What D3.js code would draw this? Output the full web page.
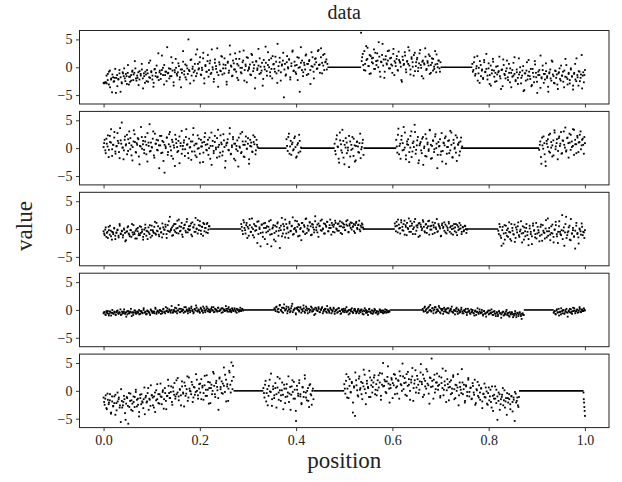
<!DOCTYPE html>
<html>
<head>
<meta charset="utf-8">
<script src="https://cdn.jsdelivr.net/npm/d3@7"></script>
<style>
  body { margin: 0; background: #fff; }
  text { font-family: "Liberation Serif", serif; fill: #222; }
</style>
</head>
<body>
<svg></svg>
<script>
const width = 622;
const height = 482;

// x ticks and y ticks shared by the panels
const xTicks = [0, 0.2, 0.4, 0.6, 0.8, 1.0];
const yTicks = [-5, 0, 5];

// panel 1 : data segments (evenly spaced positions)
const p1a = [-2.8,-2.8,-2.7,-2.9,-1.2,-3.1,-0.6,-2.2,-4.5,-1.8,
  -2.5,-0.3,-1.9,-3.4,-2.1,-1.1,-4.4,-2.7,-0.9,-1.6,
  -2.0,-1.2,-3.0,0.4,-1.7,-2.6,-1.4,-0.8,-2.3,-1.0,
  -0.2,-2.4,-1.9,-3.2,-0.7,-1.5,0.6,-2.0,-1.1,-2.8,
  -1.3,-0.5,-2.6,-1.8,1.2,-0.9,-2.2,-3.5,-0.4,-1.6,
  0.3,-1.7,-2.3,-0.6,-1.2,2.1,-0.1,-3.1,-1.4,-0.8,
  3.6,-1.0,-2.0,-0.3,-1.6,0.8,-2.7,-0.5,1.5,-1.2,
  -0.9,0.2,-1.8,-3.6,-0.4,1.0,-1.3,0.5,-2.2,-0.2,
  5.0,-0.7,1.3,-1.5,0.1,-2.4,-0.6,2.3,-1.1,0.6,
  -0.2,1.8,-1.4,-0.5,2.6,-2.9,0.4,-0.8,1.1,-1.7,
  0.7,-1.2,3.2,-0.4,-2.1,1.4,0.2,-0.9,-3.5,0.9,
  -0.6,2.0,-1.3,0.5,1.6,-0.2,-2.6,0.8,-1.0,3.9,
  0.3,-1.6,1.2,-0.4,2.5,-0.8,0.6,-2.3,1.5,-0.1,
  -1.1,0.9,3.0,-0.5,0.2,-2.7,1.7,-0.3,0.5,-1.4,
  2.2,-0.7,0.4,-1.9,1.0,-0.2,3.3,-1.2,0.1,-0.6,
  -3.3,1.3,-0.4,0.8,-1.5,2.7,0.0,-0.9,1.6,-2.0,
  0.5,-0.3,1.9,-1.1,4.2,-0.6,0.9,-2.4,0.3,1.2,
  -5.4,0.6,-1.3,2.0,-0.2,1.4,-1.8,0.2,2.8,-0.7,
  1.0,-0.9,0.4,-2.3,1.7,0.0,3.6,-0.5,-1.6,0.8,
  -0.4,2.3,0.6,-1.2,1.3,-3.0,0.2,1.8,-0.8,0.5,
  1.6,-0.3,2.9,0.4,-1.0,3.4,0.8,2.2,-0.5,0.9,1.4,0.6];
const p1a2 = [-2.9,-2.7,-1.5,-2.3,-0.8,-3.6,-2.0,-1.3,-2.6,-1.9,
  -4.6,-1.4,-2.2,-0.5,-1.8,-2.9,-1.1,-0.2,-2.5,-1.6,
  -1.0,-3.1,-1.7,-2.4,-0.6,-1.3,1.1,-2.0,-1.5,-0.9,
  -2.2,-1.2,-0.4,-3.8,-1.6,-0.8,-2.5,-1.1,0.8,-1.9,
  -0.7,-1.5,-2.8,-0.3,-1.0,-1.8,2.5,-0.9,-2.1,-0.5,
  -1.4,0.4,-0.8,-2.5,-1.1,-0.2,-1.6,1.8,-0.6,-3.3,
  -0.9,-0.1,-1.5,0.7,-2.2,-0.4,-1.0,2.9,-0.7,-1.8,
  0.3,-1.2,-0.5,-2.9,1.4,-0.3,-0.9,0.6,-1.6,3.2,
  -0.4,0.9,-1.3,-0.1,1.6,-2.0,0.2,-0.8,2.2,-0.5,
  1.2,-1.0,0.0,-2.6,0.8,-0.3,3.4,-1.4,0.5,-0.7,
  1.9,-0.2,-1.1,0.4,-3.1,1.0,-0.6,2.3,0.1,-1.5,
  0.7,-0.4,1.5,-1.9,0.3,2.8,-0.9,-0.1,1.2,-2.4,
  0.5,1.8,-0.6,0.0,-1.3,2.4,0.9,-0.2,-3.8,1.1,
  -0.5,0.3,1.6,-1.0,0.8,-2.1,0.1,3.7,-0.7,0.4,
  1.3,-1.6,-0.3,2.0,0.6,-0.8,1.0,-2.8,0.2,1.7,
  -0.9,0.5,2.6,-0.4,-1.5,0.9,0.0,1.4,-2.2,0.7,
  3.0,-0.6,0.3,-1.2,1.8,-0.1,-4.4,0.8,1.2,-0.9,
  0.4,2.1,-1.4,0.6,1.1,-0.5,2.7,0.1,-2.0,1.5,
  0.9,-0.2,3.1,0.5,1.8,-1.1,0.3,2.4,1.0,-0.4];
const p1b = [6.2,1.8,0.4,2.9,-0.6,1.3,3.5,0.2,2.2,-1.1,
  1.6,0.7,3.2,-0.3,1.1,2.5,0.0,1.9,-1.7,0.9,
  4.2,1.4,-0.8,2.0,0.5,1.2,3.0,-0.2,1.7,0.3,
  2.4,-1.4,0.8,1.5,-0.5,2.8,1.0,0.1,-2.6,1.3,
  0.6,2.1,-0.9,1.1,3.6,0.3,-0.4,1.8,0.9,-1.5,
  2.6,0.2,1.4,-0.7,0.7,3.1,-0.1,1.0,-2.0,0.5,
  1.9,-0.3,0.8,2.3,-1.2,0.4,1.6,-0.6,0.1,2.9,
  -0.9,0.6,1.2,-0.2,0.9];
const p1b2 = [1.1,2.4,-0.5,0.6,3.8,1.5,0.2,-1.2,2.0,0.9,
  1.7,-0.3,2.6,0.4,1.2,4.5,-0.8,1.0,2.2,0.3,
  -1.9,1.4,0.7,2.9,-0.2,1.6,0.5,-1.0,3.3,1.1,
  0.2,2.0,-0.6,1.3,0.8,-2.3,1.9,0.4,2.7,-0.4,
  1.0,0.6,3.0,-1.3,1.5,0.1,2.2,-0.7,0.9,1.7,
  -0.1,2.5,0.4,-1.6,1.2,0.7,3.4,-0.5,1.1,0.3,
  2.0,-1.0,0.8,1.5,-0.3,0.5,2.3,0.0,1.2,-0.8];
const p1c = [0.6,-0.5,1.8,-1.2,0.2,-2.4,-0.1,1.1,-1.6,-0.4,
  -2.1,0.9,-0.8,2.4,-1.5,-0.2,-3.0,0.3,-1.1,1.5,
  -0.6,-2.6,0.1,-1.3,-0.9,1.9,-2.0,-0.5,-3.4,0.4,
  -1.4,-0.7,1.2,-2.3,-1.0,-0.2,-3.6,-1.7,0.8,-1.2,
  -2.5,-0.4,-1.9,1.6,-0.9,-2.9,-1.5,0.2,-4.1,-1.1,
  -0.6,-2.2,1.3,-1.6,-0.3,-3.2,-1.0,-2.7,0.5,-1.8,
  -4.6,-0.8,-1.4,2.1,-2.0,-0.5,-2.8,-1.2,0.7,-1.9,
  -3.5,-1.1,-0.4,-2.4,1.0,-1.6,-2.9,-0.7,-1.3,-3.9,
  -0.9,-2.1,0.3,-1.5,-2.6,-0.6,1.5,-1.8,-3.1,-1.0,
  -2.3,-0.2,-1.7,-4.0,-1.2,0.6,-2.5,-1.4,-3.3,-0.8,
  -1.9,2.2,-1.5,-2.7,-0.5];
const p1c2 = [-0.8,0.9,-1.5,-0.2,2.0,-1.1,-2.8,0.4,-0.6,-1.9,
  1.3,-0.9,-0.3,-2.2,0.7,-1.4,-3.3,-0.5,1.0,-1.7,
  -1.0,-2.5,0.2,-0.7,-1.6,-3.9,-0.4,1.4,-1.2,-2.0,
  -0.2,-1.8,0.6,-2.7,-1.0,-0.5,-1.5,1.8,-2.3,-0.9,
  -3.0,-1.3,0.0,-1.9,-0.6,-4.3,-1.1,-2.4,0.9,-1.5,
  -0.8,-2.1,-3.4,-0.3,-1.7,1.1,-1.0,-2.6,-1.4,-0.5,
  -3.7,-1.8,0.3,-1.2,-2.2,-0.7,-1.6,-4.4,-0.9,-2.0,
  1.2,-1.3,-2.8,-0.6,-1.9,-3.1,-1.1,-0.2,-2.4,-1.5,
  -0.8,-3.6,-1.7,0.4,-2.1,-1.2,-2.9,-0.4,-1.6,-3.3,
  -1.0,-2.2,1.6,-1.8,-0.7,-2.5,-1.3,-3.8,-0.9,-1.4];

// panel 2
const p2a = [0.2,1.5,-0.9,0.8,2.3,-0.3,1.1,3.4,-1.4,0.6,
  1.9,-0.6,0.3,2.7,0.9,-1.8,1.4,4.6,0.1,-0.4,
  2.1,0.7,-1.1,1.6,3.0,-0.2,0.5,-2.2,1.2,2.5,
  -0.7,0.9,1.8,-1.5,0.4,3.8,-0.1,1.3,-0.9,2.0,
  0.6,-2.4,1.0,4.3,-0.5,0.2,1.7,-1.3,2.6,0.8,
  -0.3,1.4,-3.6,0.5,2.2,-0.8,1.1,-4.4,0.3,1.9,
  -1.2,0.7,2.9,-0.4,1.5,-1.9,0.1,2.4,0.9,-0.7,
  1.3,-2.7,0.4,3.1,-0.2,1.0,-1.4,2.0,0.6,-0.9,
  1.7,0.2,-2.1,1.2,3.6,-0.6,0.8,-1.6,2.3,0.0,
  -1.0,1.5,0.3,-2.5,1.1,2.7,-0.3,0.7,-1.2,1.9,
  0.4,-3.0,1.3,-0.5,2.2,0.1,-1.7,3.3,0.6,-0.8,
  1.0,-1.3,2.5,0.2,-2.3,0.9,1.6,-0.4,3.6,-1.0,
  0.5,2.0,-1.9,0.8,-0.2,1.4,-3.3,0.3,2.6,-0.7,
  1.2,-1.5,0.6,2.1,-0.1,1.8,-2.0,0.4,1.0,-0.6,
  2.3,0.7,-1.1,1.5,0.2];
const p2a2 = [0.9,-0.4,1.7,0.3,-1.6,2.2,1.0,-0.2,0.6,2.9,
  -1.0,0.4,1.3,-0.7,3.6,0.8,0.1,-2.0,1.5,0.5,
  2.4,-0.5,0.9,1.8,-1.3,0.2,3.2,1.1,-0.8,0.6,
  1.6,-2.9,0.3,2.0,0.7,-0.3,1.2,-1.1,2.7,0.4,
  -0.6,1.0,0.1,3.0,-1.7,0.8,1.5,-0.4,0.5,2.2,
  -0.9,1.3,-2.3,0.6,0.0,1.9,-0.7,2.5,0.3,-1.4,
  1.1,0.5,-3.2,1.6,0.2,-0.5,2.1,0.9,-1.0,0.4,
  1.4,-0.2,3.4,0.7,-1.8,0.1,1.2,-0.6,2.4,0.5,
  -1.3,0.8,-0.1,1.7,-2.6,0.3,1.0,-0.8,2.0,0.6,
  -0.4,1.5,0.0,-1.9,2.8,0.4,-0.9,1.1,-0.2,1.8,
  0.2,-1.5,2.3,0.7,-0.6,1.4,-3.5,0.5,1.0,-0.3,
  2.6,-1.1,0.2,1.6,0.8,-2.2,0.4,-0.5,1.9,0.1,
  -0.9,2.9,0.6,-1.6,1.2,-0.1,0.8,-2.8,1.5,0.3,
  -0.7,1.1,2.0,-0.4,0.6];
const p2b = [1.6,-0.5,2.6,0.3,-1.2,1.0,-0.2,2.1,-1.7,0.6,-0.8,1.3,0.1];
const p2b2 = [0.4,2.0,-1.0,1.3,0.7,-0.4,1.8,0.2,-1.5,0.9,2.4,-0.6];
const p2c = [0.8,-1.1,2.3,0.2,-2.6,1.4,-0.4,3.3,-1.7,0.6,1.8,-0.9,0.1,-3.4,
  1.2,-0.3,2.0,-1.4,0.5,-2.2,1.1,0.3,-0.8,2.6,-0.2,0.9,-1.2];
const p2c2 = [-0.5,1.6,0.3,-1.9,2.8,0.7,-0.8,1.3,-2.9,0.1,1.0,-0.4,2.2,-1.5,
  0.6,-0.1,1.7,-2.4,0.4,1.2,-0.7,0.9,-1.8,0.2,1.5];
const p2d = [1.5,-0.8,3.5,0.4,-1.9,2.2,0.9,-0.3,2.8,-1.3,
  0.7,1.6,-2.5,0.1,3.0,-0.6,1.2,4.2,-1.0,0.5,
  2.0,-2.2,0.8,-0.4,1.7,-3.0,0.3,2.5,-1.5,1.0,
  -0.2,3.3,0.6,-1.8,1.4,-0.7,2.1,0.0,-3.6,1.1,
  0.4,-1.2,2.7,-0.5,0.9,1.8,-2.8,0.2,1.3,-0.9,
  3.1,0.6,-1.6,1.5,-0.1,2.3,-2.3,0.7,1.0,-0.6,
  1.9,0.3];
const p2d2 = [0.3,2.4,-1.1,0.8,1.5,-0.4,3.8,0.1,-2.0,1.2,
  0.6,-0.7,2.2,-1.6,0.9,0.2,2.9,-0.3,1.4,-2.7,
  0.5,1.1,-0.9,2.0,0.0,-1.4,1.7,0.7,-0.5,3.2,
  -1.9,0.4,1.3,-0.2,2.5,0.8,-1.2,0.3,1.6,-0.6,
  -2.4,1.0,0.5,2.1,-1.0,0.2,1.4,-0.4,2.8,-1.7,
  0.9,0.1,-0.8,1.9,0.6,-1.3,1.2,0.0];
const p2e = [-0.3,1.2,-2.8,0.5,2.1,-1.1,-3.2,0.8,1.6,-0.6,
  2.6,0.1,-1.5,1.4,3.2,-0.2,0.9,-2.0,1.8,0.4,
  2.9,-0.9,1.3,0.6,3.7,-0.4,1.9,-1.7,1.0,2.4,
  0.2,3.4,-1.2,1.5,0.7,2.2,-0.7,1.1,3.0,0.5,
  1.7,-1.0,0.9];
const p2e2 = [0.6,-1.6,1.9,-0.1,0.9,-2.4,1.3,0.2,2.4,-0.8,
  1.1,0.5,-1.3,2.8,0.3,1.6,-0.5,2.1,0.8,-1.0,
  1.4,3.0,0.1,-0.6,1.8,0.9,2.6,-0.3,1.2,0.4,
  3.3,0.7,-0.9,1.9,1.0,2.4,-0.2,1.5,0.6,2.0];

// panel 3
const p3a = [-0.4,-1.1,0.3,-0.7,-1.6,-0.2,0.6,-1.3,-0.5,-0.9,
  0.2,-1.8,-0.6,-0.1,-1.2,0.9,-0.8,-0.3,-1.5,0.1,
  -0.7,-2.0,-0.4,0.5,-1.0,-0.2,-1.4,-0.6,0.7,-0.9,
  -0.3,-1.7,0.2,-0.8,-1.1,0.4,-0.5,-1.9,-0.1,0.8,
  -1.2,-0.4,0.3,-0.9,-1.5,0.6,-0.2,-0.7,1.3,-1.0,
  -0.3,0.5,-1.3,0.1,-0.6,1.0,-0.9,-0.1,0.4,-1.6,
  0.7,-0.4,2.2,-0.2,0.3,-1.1,0.9,-0.5,0.1,1.5,
  -0.8,0.5,-0.3,1.1,-1.4,0.2,0.8,-0.6,1.8,0.0,
  -0.2,0.6,-1.0,1.2,0.3,-0.5,2.0,0.1,-0.8,0.7,
  1.4,-0.3,0.4,-1.2,0.9,0.2,-0.6,1.1,-0.1,0.5];
const p3a2 = [-0.8,-0.1,-1.4,-0.5,0.4,-1.0,-0.3,-1.9,-0.6,0.1,
  -1.2,-0.7,-0.2,-1.5,0.6,-0.9,-0.4,-1.1,-0.1,-2.2,
  -0.5,0.3,-0.8,-1.3,-0.2,0.9,-1.0,-0.6,-1.7,0.0,
  -0.4,-1.1,0.5,-0.7,-0.1,-1.4,-0.9,0.2,-0.3,-1.8,
  -0.6,0.7,-0.2,-1.2,-0.5,0.4,-0.8,1.1,-0.4,-1.0,
  0.1,-0.6,-1.5,0.3,-0.1,0.8,-0.9,-0.3,1.4,-0.5,
  0.0,-1.2,0.6,-0.2,0.9,-0.7,0.2,1.7,-0.4,0.4,
  -1.0,0.1,0.7,-0.3,1.3,-0.6,0.5,-0.1,1.0,-1.3,
  0.3,0.8,-0.5,0.0,1.6,-0.2,0.6,-0.9,0.4,1.1,
  -0.4,0.2,0.9,-0.7,0.5];
const p3b = [0.9,-0.3,1.6,0.2,-0.8,1.1,0.4,-1.2,0.7,-0.5,
  1.9,0.0,-1.5,0.6,-0.2,1.3,-0.9,0.3,-3.1,0.8,
  -0.6,1.0,-1.8,0.2,0.5,-0.4,1.4,-1.0,-3.1,0.1,
  0.7,-0.7,-2.2,0.4,1.2,-0.3,-3.4,0.6,-1.3,0.9,
  -0.1,1.7,-0.8,0.3,-1.6,1.0,-0.4,0.5,2.1,-0.9,
  0.2,-0.2,1.4,-1.3,0.7,0.0,-2.0,1.1,-0.5,0.4,
  1.8,-0.7,0.6,-0.1,1.2,-1.1,0.9,0.3,-0.6,2.3,
  -0.2,0.8,-1.4,0.5,1.5,-0.3,0.1,1.0,-0.8,0.6,
  1.3,-0.4,0.2,1.7,-1.0,0.7,0.4,-0.6,1.1,0.0,
  0.9,-0.3,1.4,0.5,-0.9,1.0,0.3,-0.2,0.8,1.6,
  -0.5,0.6,1.2,-0.1,0.4,0.9,-0.7,1.1,0.2,0.7,
  1.5,-0.4,0.3,0.8,0.0];
const p3b2 = [0.4,-0.9,1.2,-0.2,0.7,-1.6,0.1,1.8,-0.5,0.3,
  -1.1,0.9,-0.3,0.5,-2.5,1.4,0.0,-0.7,0.8,-1.4,
  0.2,1.1,-0.6,-2.7,0.4,-0.1,1.6,-0.9,0.3,-1.9,
  0.6,-0.4,1.0,-1.2,0.2,-0.2,2.0,-0.8,0.5,-1.5,
  0.9,0.1,-0.6,1.3,-0.3,0.6,-1.0,0.0,1.5,-0.5,
  0.4,0.9,-1.2,0.2,1.1,-0.4,0.7,-0.9,1.9,0.1,
  -0.3,1.2,0.5,-1.0,0.8,-0.1,1.4,0.3,-0.6,1.0,
  0.6,-0.2,1.7,0.0,-0.8,0.9,0.4,1.3,-0.4,0.7,
  0.2,1.1,-0.5,0.8,1.5,0.1,-0.3,1.0,0.5,-0.7,
  1.2,0.3,0.8,-0.2,1.4,0.6,-0.6,0.9,0.2,1.1,
  0.5,-0.4,0.7,1.3,0.0,0.8,-0.1,0.6,1.0,0.3];
const p3c = [1.0,-0.4,0.6,1.7,0.1,-0.8,1.2,0.4,-0.3,1.5,
  0.7,-1.1,0.2,1.9,0.5,-0.5,1.0,0.0,1.3,-0.9,
  0.6,0.3,-1.4,1.1,0.8,-0.2,1.6,0.4,-0.6,0.9,
  0.2,1.4,-1.0,0.5,-0.1,1.2,0.7,-0.7,0.3,1.8,
  -0.4,0.6,0.1,-1.2,1.0,0.4,-0.3,0.8,-0.8,0.2,
  1.3,-0.5,0.5,0.0,-1.0,0.9,0.3,-0.6,0.7,-0.2,
  1.1,0.1,-0.9,0.4,-0.4,0.6,0.0,-0.1];
const p3c2 = [0.5,1.3,-0.6,0.8,0.2,1.6,-0.2,0.9,-1.0,0.4,
  1.1,0.0,-0.5,1.4,0.6,-0.9,0.3,1.8,-0.3,0.7,
  1.0,-1.2,0.4,0.1,1.3,-0.4,0.8,-0.7,0.5,1.5,
  -0.1,0.6,-0.9,0.3,1.1,0.0,-0.5,0.9,0.4,-1.3,
  0.7,0.2,1.2,-0.6,0.5,-0.2,1.0,0.3,-0.8,0.6,
  0.1,-0.4,0.9,-1.1,0.4,0.0,0.7,-0.5,0.3,-0.2,
  0.5,-0.7];
const p3d = [-0.3,0.9,-1.2,-3.0,0.4,-0.8,-1.9,0.6,-0.2,-1.4,
  1.2,-0.6,-2.1,0.2,-0.9,0.8,-1.6,-0.1,0.5,-1.1,
  -0.4,1.4,-2.4,-0.7,0.3,-1.3,0.9,-0.5,-1.8,0.1,
  -0.9,-2.7,0.6,-0.3,-1.5,1.1,-0.8,-0.2,-2.2,0.4,
  -1.0,0.7,-0.6,-1.7,1.6,-0.4,-1.2,0.2,-2.0,-0.7,
  0.8,-1.4,-0.1,1.3,-0.9,-2.5,0.5,-0.5,-1.1,2.5,
  -0.3,-3.0,0.9,-1.6,-0.6,0.3,-1.9,1.8,-0.8,-0.2,
  -1.3,-3.5,0.6,-0.9,-1.5,0.1,-0.4,1.0,-1.1,-0.6,
  -0.2];
const p3d2 = [-0.9,0.4,-1.6,-0.2,-2.6,0.7,-0.7,-1.2,0.1,-0.5,
  -1.8,0.9,-0.3,-1.0,-2.3,0.3,-0.6,1.2,-1.4,-0.1,
  -0.8,0.5,-1.9,-0.4,0.2,-1.1,-2.9,0.6,-0.5,-1.3,
  1.0,-0.2,-0.9,-1.7,0.4,-0.6,-1.2,0.8,-2.1,-0.3,
  -0.7,0.1,-1.5,1.9,-0.4,-1.0,0.5,-0.8,-2.4,-0.1,
  0.7,-1.3,-0.5,1.4,-0.9,-0.2,-1.8,0.3,-0.6,2.2,
  -1.1,-0.4,0.6,-2.0,-0.8,0.2,-1.4,-0.3,1.1,-0.7,
  -2.6,-0.1,-1.0,0.4,-0.5,-1.6];

// panel 4
const p4a = [-0.6,-0.4,-0.9,-0.5,-0.2,-0.7,-0.3,-1.0,-0.5,-0.6,
  -0.3,-0.8,-0.4,-0.1,-0.7,-0.5,-0.9,-0.3,-0.6,0.1,
  -0.5,-0.4,-0.8,-0.2,-0.6,-0.3,-1.1,-0.4,-0.5,-0.1,
  -0.7,-0.3,-0.5,-0.8,-0.2,-0.4,-0.6,0.0,-0.5,-0.3,
  -0.7,-0.2,-0.4,-0.9,-0.1,-0.5,-0.3,-0.6,0.2,-0.4,
  -0.2,-0.5,-0.1,-0.7,-0.3,0.1,-0.4,-0.6,-0.2,0.3,
  -0.3,-0.1,-0.5,0.0,-0.4,-0.2,0.4,-0.3,-0.6,-0.1,
  0.2,-0.4,-0.2,0.1,-0.5,-0.3,0.5,-0.1,-0.2,0.0,
  -0.4,0.3,-0.2,-0.6,0.1,-0.1,0.4,-0.3,0.0,-0.5,
  0.2,-0.2,0.6,-0.1,-0.4,0.1,0.3,-0.3,0.0,-0.2,
  0.5,-0.1,-0.4,0.2,0.0,-0.3,0.4,-0.2,0.1,-0.5,
  0.3,0.0,-0.2,0.7,-0.1,0.2,-0.3,0.1,-0.4,0.0,
  -0.2,0.3,-0.1,-0.5,0.1,-0.3,0.0,-0.2,0.2,-0.1];
const p4a2 = [-0.4,-0.8,-0.2,-0.6,-1.0,-0.3,-0.5,0.0,-0.7,-0.4,
  -0.9,-0.2,-0.6,-0.4,0.1,-0.8,-0.5,-0.3,-0.7,-1.2,
  -0.2,-0.6,-0.4,0.2,-0.5,-0.9,-0.1,-0.4,-0.6,-0.3,
  0.0,-0.7,-0.2,-0.5,0.3,-0.4,-0.8,-0.1,-0.3,-0.6,
  0.1,-0.2,-0.5,-0.3,0.4,-0.7,-0.1,-0.4,0.0,-0.2,
  -0.6,0.2,-0.3,0.5,-0.1,-0.4,0.1,-0.2,0.7,-0.5,
  0.0,-0.3,0.3,-0.1,0.9,-0.4,0.2,-0.2,0.0,0.5,
  -0.3,0.1,-0.6,0.3,-0.1,0.6,0.0,-0.4,0.2,0.8,
  -0.2,0.1,-0.3,0.4,0.0,-0.5,0.3,-0.1,0.6,-0.2,
  0.1,-0.4,0.2,0.0,0.5,-0.3,0.1,-0.1,0.4,-0.2,
  0.0,0.3,-0.4,0.1,-0.1,0.2,-0.3,0.5,0.0,-0.2,
  0.3,-0.1,0.1,-0.3,0.2,0.0,-0.2,0.4,-0.1,0.1];
const p4b = [0.3,-0.2,0.6,0.1,-0.4,0.9,0.0,-0.3,0.4,1.0,
  -0.1,0.2,-0.6,0.5,0.1,-0.2,0.7,-0.4,0.0,0.3,
  -0.8,0.2,0.5,-0.1,0.4,-0.5,0.1,0.8,-0.3,0.0,
  0.3,-0.6,0.2,-0.1,0.6,-0.3,0.1,-0.9,0.4,0.0,
  -0.2,0.5,-0.4,0.1,0.3,-0.6,0.0,0.2,-0.3,0.7,
  -0.1,-0.5,0.2,0.0,-0.3,0.4,-0.7,-0.1,0.1,-0.4,
  0.3,-0.2,-0.6,0.0,0.2,-0.4,-0.1,0.5,-0.3,-0.8,
  0.0,-0.2,0.3,-0.5,-0.1,0.1,-0.6,-0.3,0.2,-0.2,
  -0.4,0.0,-0.7,-0.1,0.3,-0.5,-0.2,-0.9,0.1,-0.3,
  -0.6,-0.1,-0.4,0.2,-0.5,-0.2,-0.8,-0.3,0.0,-0.4,
  -0.1,-0.6,-0.3,0.1,-0.5,-0.2,-0.4,-0.3];
const p4b2 = [0.1,0.5,-0.3,0.2,0.8,-0.1,0.4,-0.5,0.3,0.0,
  0.6,-0.2,0.1,-0.4,0.3,1.1,-0.1,0.2,-0.6,0.4,
  0.0,-0.3,0.5,0.1,-0.2,0.3,-0.5,0.6,-0.1,0.2,
  -0.4,0.0,0.4,-0.2,0.1,-0.7,0.3,-0.1,0.2,-0.4,
  0.0,0.5,-0.3,-0.1,0.2,-0.5,0.1,-0.2,0.4,-0.6,
  -0.1,0.2,-0.3,0.0,-0.5,0.3,-0.2,-0.7,0.1,-0.3,
  -0.1,0.2,-0.4,-0.2,0.0,-0.6,0.1,-0.3,-0.5,0.2,
  -0.2,-0.4,0.0,-0.6,-0.1,0.1,-0.3,-0.8,-0.2,0.0,
  -0.5,-0.3,0.2,-0.4,-0.1,-0.7,-0.2,0.0,-0.5,-0.3,
  -0.6,0.1,-0.2,-0.4,-0.1,-0.5,-0.3,0.0,-0.4,-0.2];
const p4c = [0.2,-0.3,0.6,0.0,-0.5,0.4,-0.1,0.9,-0.2,0.3,
  -0.6,0.1,0.5,-0.3,0.0,0.7,-0.4,0.2,-0.1,-0.7,
  0.4,-0.2,0.1,-0.5,0.3,-0.3,0.0,0.6,-0.4,-0.1,
  -0.8,0.2,-0.3,0.1,-0.5,-0.2,0.4,-0.6,-0.1,0.0,
  -0.4,-0.9,0.2,-0.3,-0.6,0.1,-0.2,-0.5,-1.0,-0.1,
  -0.4,0.3,-0.7,-0.3,-0.5,0.0,-0.8,-0.2,-0.6,-1.2,
  -0.4,-0.1,-0.7,-0.5,0.1,-0.9,-0.3,-0.6,-1.1,-0.4,
  -0.8,-0.2,-0.6,-1.4,-0.5,-0.3,-0.9,-0.7,0.0,-0.6,
  -1.0,-0.4,-0.8,-0.5,-1.3,-0.7,-0.2,-0.9,-0.6,-1.1,
  -0.5,-0.8,-1.6,-0.6,-0.9];
const p4c2 = [-0.1,0.4,-0.2,0.2,-0.4,0.6,0.0,-0.3,0.3,-0.1,
  0.5,-0.5,0.1,-0.2,0.4,-0.6,0.0,0.2,-0.3,0.1,
  -0.4,0.3,-0.6,-0.1,0.2,-0.3,-0.5,0.0,-0.2,0.4,
  -0.7,-0.1,-0.4,0.1,-0.3,-0.6,-0.2,0.2,-0.5,-0.3,
  -0.1,-0.7,-0.4,0.0,-0.6,-0.2,-0.9,-0.3,-0.5,0.1,
  -0.6,-0.4,-1.0,-0.2,-0.7,-0.5,-0.3,-0.8,-0.1,-0.6,
  -0.4,-0.9,-0.2,-0.7,-0.5,-1.1,-0.3,-0.6,-0.8,-0.4,
  -1.0,-0.6,-0.3,-0.9,-0.5,-1.2,-0.7,-0.4,-0.8,-1.0,
  -0.6,-1.3,-0.5,-0.8,-0.4,-1.1,-0.7,-0.9];
const p4d = [-0.5,-0.2,-0.8,0.1,-0.4,-1.0,-0.3,0.3,-0.6,-0.1,
  -0.7,0.0,-0.4,-1.2,-0.2,0.2,-0.5,-0.3,0.4,-0.1,
  -0.6,-0.2,0.1,-0.4,0.5,-0.3,0.0,-0.2,0.3,-0.1];
const p4d2 = [-0.3,-0.7,-0.1,-0.5,0.2,-0.4,-0.8,-0.2,0.0,-0.6,
  -0.3,0.2,-0.5,-0.1,-0.4,0.1,-0.7,-0.2,0.3,-0.3,
  0.0,-0.5,-0.1,0.2,-0.4,0.1,-0.2,0.0];

// panel 5
const p5a = [-1.2,-2.5,-0.8,-3.3,-1.6,-2.1,-0.6,-3.9,-1.9,-2.7,
  -1.0,-4.3,-2.2,-0.3,-1.5,-3.0,-5.6,-1.8,-2.6,-0.9,
  -4.0,-2.3,-1.3,-5.9,-2.9,-0.5,-1.7,-3.6,-2.0,-1.1,
  0.2,-2.8,-1.4,-4.6,-0.7,-2.4,-1.9,-3.1,0.6,-1.2,
  -2.1,-0.4,-3.4,-1.6,1.0,-0.8,-2.6,-1.0,-3.8,0.1,
  -1.5,-0.6,-2.3,1.3,-1.1,-0.2,-3.2,0.5,-1.8,-0.9,
  2.0,-0.4,-1.3,0.8,-2.5,-0.1,1.4,-1.0,-0.6,2.3,
  -1.7,0.3,-0.8,1.7,-0.3,-2.8,0.9,-0.5,2.6,-1.2,
  0.4,-0.1,1.6,-2.0,0.7,-0.7,3.0,0.0,-1.4,1.2,
  -0.3,2.1,0.6,-1.6,1.0,-0.9,2.8,0.2,-2.3,1.5,
  0.5,-0.6,3.4,0.9,-1.1,1.8,0.1,-3.4,2.4,0.7,
  -0.4,1.3,4.2,-0.2,2.0,0.8,-1.8,3.6,1.1,5.1,
  0.3,2.5];
const p5a2 = [-2.0,-1.4,-3.1,-0.5,-2.4,-1.7,-4.1,-1.0,-2.8,-2.2,
  -0.7,-3.5,-1.9,-1.2,-2.6,0.3,-3.0,-2.0,-1.5,-5.2,
  -1.1,-2.7,-0.4,-1.8,-3.4,-2.3,-1.0,-2.9,-0.2,-1.6,
  -2.5,-3.8,-1.3,-0.6,-2.1,-1.5,-4.2,-0.9,-1.9,0.5,
  -1.4,-2.7,-0.8,-1.2,-3.0,-0.3,-1.7,1.2,-2.2,-0.6,
  -1.0,-2.4,0.1,-1.5,-0.4,-3.3,-0.9,0.9,-1.3,-0.2,
  -2.0,0.6,-0.7,-1.4,1.9,-0.3,-1.0,0.2,-2.6,0.8,
  -0.5,1.5,-0.9,0.3,-1.8,2.4,0.0,-0.6,1.1,-1.2,
  0.6,-0.2,2.0,-0.8,0.4,1.3,-1.5,0.9,-0.4,2.7,
  0.2,-0.9,1.6,0.5,-2.2,1.1,0.0,3.1,-0.6,1.4,
  0.7,-1.3,2.2,0.3,1.7,-0.5,0.9,2.9,-1.9,1.2,
  0.4,3.3,-0.3,1.8,4.5];
const p5b = [0.5,-1.2,1.8,-0.4,-2.6,0.9,-0.1,3.1,-1.5,0.3,
  -0.8,1.4,-3.0,0.6,-0.3,2.2,-1.8,0.1,-0.7,1.1,
  -2.2,0.4,-1.0,2.6,-0.5,-3.4,0.8,-0.2,1.6,-1.4,
  -5.4,0.2,-0.9,1.9,-0.6,-2.4,0.7,-1.1,2.8,-0.3,
  -1.7,0.5,-2.9,1.2,-0.8,0.0,-1.5];
const p5b2 = [-0.4,1.1,-1.9,0.3,-0.9,2.0,-0.2,-2.7,0.8,-1.3,
  0.5,-0.6,2.5,-1.6,0.1,-0.8,1.5,-3.3,0.4,-1.1,
  1.2,-0.3,-2.0,0.7,-0.7,1.9,-1.4,0.2,-3.6,0.9,
  -0.5,1.4,-1.0,-2.2,0.6,-0.2,2.2,-1.2,0.0,-1.8,
  1.0,-0.6,-2.5,0.4];
const p5c = [1.2,-0.5,3.0,0.4,-1.3,2.1,-0.2,1.6,-3.9,
  0.8,-4.5,1.9,0.1,-1.0,2.6,0.5,-0.6,1.4,
  3.8,0.3,-2.4,1.8,0.7,-1.1,2.4,1.0,-0.3,
  1.5,2.8,0.2,-0.8,1.9,0.6,3.2,-1.6,1.1,
  5.0,0.9,1.7,-0.4,2.5,1.3,-2.1,0.5,2.0,
  1.4,3.0,-0.6,2.2,0.8,1.9,-1.4,2.7,1.0,
  4.9,0.3,2.3,1.5,-0.9,3.4,1.1,0.0,2.0,
  2.6,-1.8,1.3,3.7,0.6,2.1,-0.4,1.7,4.8,
  1.2,2.9,-0.7,1.8,0.4,3.5,1.0,-2.3,2.3,
  5.8,0.8,2.0,-0.3,1.5,3.1,0.2,1.1,-1.2,
  2.4,0.5,-0.8,1.7,3.6,0.1,1.2,-1.7,0.7,
  1.9,-0.4,2.8,0.3,-1.3,1.0,0.6,-2.6,1.5,
  0.2,3.9,-0.6,1.1,-1.8,0.8,-0.2,2.3,-1.0,
  0.5,-1.5,1.4,-0.3,2.0,-2.2,0.1,-0.9,1.0,
  -1.6,0.4,-3.1,-0.5,1.3,-1.2,-0.1,-2.5,0.6,
  -1.0,-2.0,0.8,-3.6,-0.7,-1.4,0.2,-5.2,-1.8,
  -0.6,-2.4,-1.1,0.5,-1.7,-3.0,-1.3,-0.4,-2.1,
  -1.5,-3.3,-0.9,-2.0,-1.2,-5.4,-0.5,-1.8,-2.6,-1.1];
const p5c2 = [0.4,1.8,-1.2,2.5,0.9,-0.3,1.4,-2.1,0.6,3.3,
  1.0,-0.8,2.2,0.2,1.6,-1.5,0.8,2.9,-0.4,1.3,
  0.5,3.6,-1.1,1.9,0.7,2.4,-0.6,1.2,0.1,2.8,
  1.5,-0.9,3.1,0.8,2.0,-0.2,1.7,4.4,0.4,1.1,
  2.3,-1.3,1.0,2.9,0.6,-0.5,1.8,3.5,1.2,0.0,
  2.6,1.4,-0.7,3.0,0.9,2.1,-1.6,1.5,4.1,0.5,
  1.9,-0.3,2.7,1.1,0.2,3.3,1.6,-1.1,2.2,0.8,
  3.9,1.3,-0.5,2.4,0.7,1.8,-1.4,2.9,0.3,1.5,
  0.9,2.6,-0.9,1.4,4.0,0.2,1.0,-2.0,2.1,0.6,
  1.6,-0.6,0.4,2.5,-1.5,1.1,0.0,3.0,-0.8,0.7,
  -0.4,1.5,0.3,-2.1,1.0,-0.9,2.0,-0.2,0.6,-1.4,
  0.9,-0.7,-2.5,0.3,1.6,-1.2,-0.3,0.5,-1.9,-0.6,
  -1.1,0.6,-2.3,-0.4,-1.7,0.2,-3.0,-0.9,-1.4,0.8,
  -2.2,-1.0,-0.3,-3.4,-1.5,-0.7,-2.6,0.1,-1.9,-4.3,
  -1.3,-0.6,-2.4,-1.0,-3.7,-1.6,-0.2,-2.1,-1.2,-2.9];
const p5d = [-0.3,-1.5,-2.1,-2.9,-3.6,-4.5];

// segment extents along position: [start, end]
const p1Range = [[0, 0.465], [0.535, 0.70], [0.766, 1.0]];
const p2Range = [[0, 0.32], [0.38, 0.41], [0.48, 0.54], [0.608, 0.745], [0.905, 1.0]];
const p3Range = [[0, 0.22], [0.286, 0.54], [0.605, 0.755], [0.82, 1.0]];
const p4Range = [[0, 0.29], [0.355, 0.594], [0.663, 0.873], [0.935, 1.0]];
const p5Range = [[0, 0.27], [0.332, 0.436], [0.50, 0.863], [0.997, 1.0]];

const panels = [
  { ranges: p1Range, values: [[p1a, p1a2], [p1b, p1b2], [p1c, p1c2]] },
  { ranges: p2Range, values: [[p2a, p2a2], [p2b, p2b2], [p2c, p2c2], [p2d, p2d2], [p2e, p2e2]] },
  { ranges: p3Range, values: [[p3a, p3a2], [p3b, p3b2], [p3c, p3c2], [p3d, p3d2]] },
  { ranges: p4Range, values: [[p4a, p4a2], [p4b, p4b2], [p4c, p4c2], [p4d, p4d2]] },
  { ranges: p5Range, values: [[p5a, p5a2], [p5b, p5b2], [p5c, p5c2], [p5d]] }
];

const left = 79.5, right = 609;
const top0 = 30.5, panelH = 73.5, pitch = 80.9;

let svg = d3.select('svg').attr('width', width).attr('height', height);

let xScale = d3.scaleLinear().domain([-0.05, 1.05]).range([left, right]);

function toPoints(panel) {
  let pts = [];
  panel.values.forEach((sets, s) => {
    let [a, b] = panel.ranges[s];
    sets.forEach((vals, j) => {
      let n = vals.length;
      vals.forEach((v, i) => {
        // second set sits between the first set's positions
        let t = j === 0 ? (n > 1 ? i / (n - 1) : 0) : (i + 0.5) / n;
        pts.push([a + (b - a) * t, v]);
      });
    });
  });
  return pts;
}

function toGaps(panel) {
  let gaps = [];
  for (let s = 0; s < panel.ranges.length - 1; s++) {
    gaps.push([panel.ranges[s][1], panel.ranges[s + 1][0]]);
  }
  return gaps;
}

panels.forEach((panel, k) => {
  let top = top0 + k * pitch;
  let yScale = d3.scaleLinear().domain([-6.6, 6.6]).range([top + panelH, top]);
  let g = svg.append('g');

  // zero line through the gaps
  g.selectAll('line.gap')
    .data(toGaps(panel))
    .enter()
    .append('line')
    .attr('class', 'gap')
    .attr('x1', d => xScale(d[0]))
    .attr('x2', d => xScale(d[1]))
    .attr('y1', yScale(0))
    .attr('y2', yScale(0))
    .attr('stroke', '#000')
    .attr('stroke-width', 1.6);

  g.selectAll('rect.dot')
    .data(toPoints(panel))
    .enter()
    .append('rect')
    .attr('class', 'dot')
    .attr('x', d => xScale(d[0]) - 0.9)
    .attr('y', d => yScale(d[1]) - 0.9)
    .attr('width', 1.8)
    .attr('height', 1.8)
    .attr('fill', '#000');

  let yAxis = d3.axisLeft(yScale).tickValues(yTicks).tickSize(3.5).tickPadding(3.5)
    .tickFormat(d3.format('d'));
  let xAxis = d3.axisBottom(xScale).tickValues(xTicks).tickSize(3.5).tickPadding(4)
    .tickFormat(k === panels.length - 1 ? d3.format('.1f') : '');

  let ya = g.append('g').attr('transform', 'translate(' + left + ',0)').call(yAxis);
  let xa = g.append('g').attr('transform', 'translate(0,' + (top + panelH) + ')').call(xAxis);
  [ya, xa].forEach(a => {
    a.select('.domain').remove();
    a.selectAll('.tick line').attr('stroke', '#222').attr('stroke-width', 0.9);
    a.selectAll('.tick text').style('font-family', '"Liberation Serif", serif')
      .style('font-size', '14px').attr('fill', '#222');
  });

  g.append('rect')
    .attr('x', left).attr('y', top)
    .attr('width', right - left).attr('height', panelH)
    .attr('fill', 'none')
    .attr('stroke', '#222')
    .attr('stroke-width', 1);
});

svg.append('text')
  .attr('x', (left + right) / 2).attr('y', 19)
  .attr('text-anchor', 'middle')
  .style('font-size', '20px')
  .text('data');

svg.append('text')
  .attr('x', (left + right) / 2).attr('y', 468)
  .attr('text-anchor', 'middle')
  .style('font-size', '23px')
  .text('position');

svg.append('text')
  .attr('transform', 'translate(32,226) rotate(-90)')
  .attr('text-anchor', 'middle')
  .style('font-size', '23px')
  .text('value');
</script>
</body>
</html>
